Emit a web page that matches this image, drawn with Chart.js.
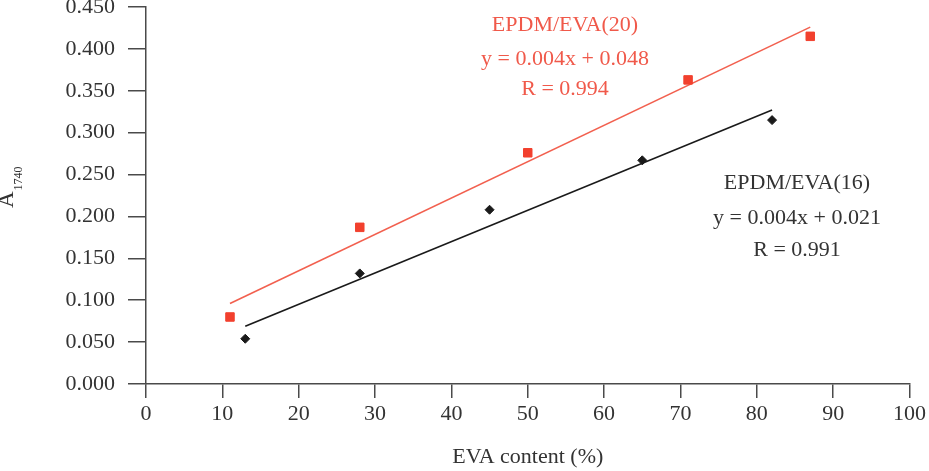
<!DOCTYPE html>
<html>
<head>
<meta charset="utf-8">
<script src="https://cdn.jsdelivr.net/npm/chart.js@4"></script>
<style>
  html, body { margin: 0; padding: 0; background: #fff; }
  #wrap { width: 929px; height: 471px; }
</style>
</head>
<body>
<div id="wrap"><canvas id="chart" width="929" height="471"></canvas></div>
<script>
// EVA content (%) vs A1740
const eva20X = [11, 28, 50, 71, 87];
const eva20Y = [0.080, 0.187, 0.276, 0.363, 0.415];
const eva16X = [13, 28, 45, 65, 82];
const eva16Y = [0.054, 0.132, 0.208, 0.267, 0.315];

// fitted lines, end points
const fit20X = [11, 87];
const fit20Y = [0.096, 0.426];
const fit16X = [13, 82];
const fit16Y = [0.069, 0.327];

const label20 = ['EPDM/EVA(20)', 'y = 0.004x + 0.048', 'R = 0.994'];
const label16 = ['EPDM/EVA(16)', 'y = 0.004x + 0.021', 'R = 0.991'];

const xTicks = { min: 0, max: 100, step: 10 };
const yTicks = { min: 0, max: 0.45, step: 0.05 };

const toPts = (xs, ys) => xs.map((x, i) => ({ x: x, y: ys[i] }));

const FONT = 'Liberation Serif';
const RED = '#f2402e';
const RED_LINE = '#f2604f';
const RED_TEXT = '#f0594a';
const DARK = '#1a1a1a';
const AXIS = '#4a4a4a';

// y title with subscript + equation labels
const extras = {
  id: 'extras',
  afterDraw(chart) {
    const ctx = chart.ctx;
    ctx.save();
    ctx.fillStyle = '#333';
    ctx.translate(13, 208);
    ctx.rotate(-Math.PI / 2);
    ctx.textAlign = 'left';
    ctx.textBaseline = 'alphabetic';
    ctx.font = '23px "' + FONT + '"';
    ctx.fillText('A', 0, 0);
    const w = ctx.measureText('A').width;
    ctx.font = '12px "' + FONT + '"';
    ctx.fillText('1740', w + 1, 9);
    ctx.restore();

    ctx.save();
    ctx.font = '22px "' + FONT + '"';
    ctx.textAlign = 'center';
    ctx.textBaseline = 'middle';
    ctx.fillStyle = RED_TEXT;
    [25, 59, 89].forEach((y, i) => ctx.fillText(label20[i], 565, y));
    ctx.fillStyle = '#333';
    [183, 218, 250].forEach((y, i) => ctx.fillText(label16[i], 797, y));
    ctx.restore();
  }
};

new Chart(document.getElementById('chart'), {
  type: 'scatter',
  data: {
    datasets: [
      {
        label: 'fit 20',
        data: toPts(fit20X, fit20Y),
        showLine: true,
        borderColor: RED_LINE,
        borderWidth: 1.6,
        pointRadius: 0,
        order: 2
      },
      {
        label: 'fit 16',
        data: toPts(fit16X, fit16Y),
        showLine: true,
        borderColor: DARK,
        borderWidth: 1.6,
        pointRadius: 0,
        order: 2
      },
      {
        label: 'EPDM/EVA(20)',
        data: toPts(eva20X, eva20Y),
        pointStyle: 'rect',
        pointRadius: 6,
        backgroundColor: RED,
        borderColor: RED,
        borderWidth: 1,
        order: 1
      },
      {
        label: 'EPDM/EVA(16)',
        data: toPts(eva16X, eva16Y),
        pointStyle: 'rectRot',
        pointRadius: 4.5,
        backgroundColor: DARK,
        borderColor: DARK,
        borderWidth: 1,
        order: 1
      }
    ]
  },
  options: {
    responsive: false,
    animation: false,
    layout: { padding: { top: 5, right: 19, left: 0, bottom: 0 } },
    plugins: {
      legend: { display: false },
      tooltip: { enabled: false }
    },
    scales: {
      x: {
        type: 'linear',
        min: xTicks.min,
        max: xTicks.max,
        ticks: {
          stepSize: xTicks.step,
          color: '#333',
          padding: 3,
          font: { family: FONT, size: 22 }
        },
        grid: {
          drawOnChartArea: false,
          drawTicks: true,
          tickLength: 14,
          color: AXIS,
          lineWidth: 1.5
        },
        border: { color: AXIS, width: 1.5 },
        title: {
          display: true,
          text: 'EVA content (%)',
          color: '#333',
          padding: { top: 0, bottom: 1 },
          font: { family: FONT, size: 22 }
        },
        afterFit(scale) {
          scale.height = 87;
          scale.paddingLeft = 0;
        }
      },
      y: {
        type: 'linear',
        min: yTicks.min,
        max: yTicks.max,
        ticks: {
          stepSize: yTicks.step,
          color: '#333',
          padding: 13,
          font: { family: FONT, size: 22 },
          callback: v => v.toFixed(3)
        },
        grid: {
          drawOnChartArea: false,
          drawTicks: true,
          tickLength: 18,
          color: AXIS,
          lineWidth: 1.5
        },
        border: { color: AXIS, width: 1.5 },
        afterFit(scale) {
          scale.width = 146;
          scale.paddingTop = 0;
          scale.paddingBottom = 0;
        }
      }
    }
  },
  plugins: [extras]
});
</script>
</body>
</html>
